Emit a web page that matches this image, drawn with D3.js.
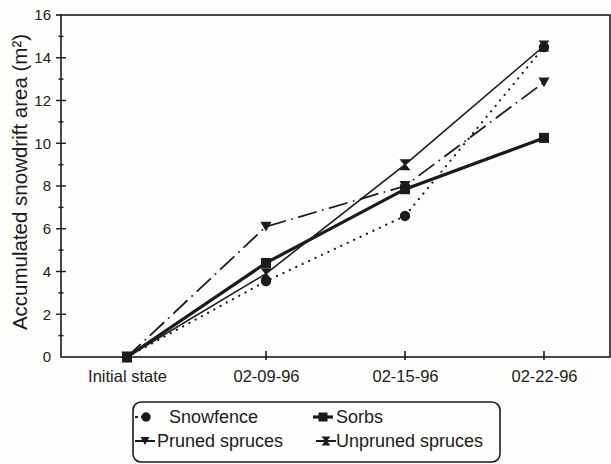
<!DOCTYPE html>
<html>
<head>
<meta charset="utf-8">
<script src="https://cdn.jsdelivr.net/npm/d3@7"></script>
<style>
  html, body { margin: 0; padding: 0; background: #fdfdfc; }
  svg { display: block; }
  text { font-family: "Liberation Sans", Arial, Helvetica, sans-serif; fill: #1b1b1b; }
</style>
</head>
<body>
<svg id="chart" width="611" height="464"></svg>
<script>
// ---- data ----
const categories = ["Initial state", "02-09-96", "02-15-96", "02-22-96"];
const snowfence = [0, 3.55, 6.6, 14.5];
const sorbs = [0, 4.4, 7.85, 10.25];
const prunedSpruces = [0, 6.1, 8.0, 12.85];
const unprunedSpruces = [0, 3.9, 9.0, 14.55];
const yTicks = [0, 2, 4, 6, 8, 10, 12, 14, 16];
const yMinorTicks = [1, 3, 5, 7, 9, 11, 13, 15];
const seriesNames = ["Snowfence", "Sorbs", "Pruned spruces", "Unpruned spruces"];

const ink = "#1b1b1b";
const svg = d3.select("#chart");
const plot = { left: 61, right: 610, top: 15, bottom: 357 };

const x = d3.scalePoint().domain(categories).range([plot.left, plot.right]).padding(0.475);
const y = d3.scaleLinear().domain([0, 16]).range([plot.bottom, plot.top]);

// ---- frame ----
const g = svg.append("g");
g.append("rect")
  .attr("x", plot.left).attr("y", plot.top)
  .attr("width", plot.right - plot.left).attr("height", plot.bottom - plot.top)
  .attr("fill", "none").attr("stroke", ink).attr("stroke-width", 1.6);

// ---- y axis ----
const yAxis = d3.axisLeft(y).tickValues(yTicks).tickSize(0).tickPadding(10).tickFormat(d3.format("d"));
const ya = g.append("g").attr("transform", `translate(${plot.left},0)`).call(yAxis);
ya.select(".domain").remove();
ya.selectAll("text").style("font-size", "15px").attr("fill", ink);
g.selectAll(".ymaj").data(yTicks.filter(d => d > 0 && d < 16)).enter().append("line")
  .attr("x1", plot.left - 5).attr("x2", plot.left + 5)
  .attr("y1", d => y(d)).attr("y2", d => y(d))
  .attr("stroke", ink).attr("stroke-width", 1.4);
g.selectAll(".ymin").data(yMinorTicks).enter().append("line")
  .attr("x1", plot.left - 2.5).attr("x2", plot.left + 2.5)
  .attr("y1", d => y(d)).attr("y2", d => y(d))
  .attr("stroke", ink).attr("stroke-width", 1.4);
g.append("line").attr("x1", plot.left - 5).attr("x2", plot.left)
  .attr("y1", y(16)).attr("y2", y(16)).attr("stroke", ink).attr("stroke-width", 1.6);

// ---- x axis ----
const xAxis = d3.axisBottom(x).tickSize(0).tickPadding(13);
const xa = g.append("g").attr("transform", `translate(0,${plot.bottom})`).call(xAxis);
xa.select(".domain").remove();
xa.selectAll("text").style("font-size", "16.5px").attr("fill", ink);
g.selectAll(".xt").data(categories.slice(1)).enter().append("line")
  .attr("x1", d => x(d)).attr("x2", d => x(d))
  .attr("y1", plot.bottom - 6).attr("y2", plot.bottom + 3)
  .attr("stroke", ink).attr("stroke-width", 1.6);

// ---- y title ----
g.append("text")
  .attr("transform", `translate(27,182) rotate(-90)`)
  .attr("text-anchor", "middle")
  .style("font-size", "20.5px")
  .text("Accumulated snowdrift area (m²)");

// ---- markers ----
function marker(sel, type, cx, cy, s) {
  if (type === "circle") {
    sel.append("circle").attr("cx", cx).attr("cy", cy).attr("r", s * 0.52).attr("fill", ink);
  } else if (type === "square") {
    sel.append("rect").attr("x", cx - s / 2).attr("y", cy - s / 2).attr("width", s).attr("height", s).attr("fill", ink);
  } else if (type === "triangle") {
    const h = s * 0.9;
    sel.append("path").attr("d", `M${cx - s / 2},${cy - h / 2}L${cx + s / 2},${cy - h / 2}L${cx},${cy + h / 2}Z`).attr("fill", ink);
  } else if (type === "hourglass") {
    const hw = s / 2;
    sel.append("path").attr("d",
      `M${cx - hw},${cy - hw}L${cx + hw},${cy - hw}L${cx + 1},${cy}L${cx + hw},${cy + hw}L${cx - hw},${cy + hw}L${cx - 1},${cy}Z`)
      .attr("fill", ink);
  }
}

const series = [
  { name: seriesNames[0], values: snowfence, marker: "circle", width: 2.2, dash: "0.1,7", cap: "round", size: 10 },
  { name: seriesNames[1], values: sorbs, marker: "square", width: 3.2, dash: null, cap: "butt", size: 10 },
  { name: seriesNames[2], values: prunedSpruces, marker: "triangle", width: 1.8, dash: "18,7,0.1,7", cap: "round", size: 11 },
  { name: seriesNames[3], values: unprunedSpruces, marker: "hourglass", width: 1.6, dash: null, cap: "butt", size: 11 }
];

const line = d3.line().x((d, i) => x(categories[i])).y(d => y(d));

series.forEach(s => {
  g.append("path").datum(s.values)
    .attr("d", line)
    .attr("fill", "none").attr("stroke", ink)
    .attr("stroke-width", s.width)
    .attr("stroke-linecap", s.cap)
    .attr("stroke-dasharray", s.dash);
});
series.forEach(s => {
  const mg = g.append("g");
  s.values.forEach((v, i) => marker(mg, s.marker, x(categories[i]), y(v), s.size));
});

// ---- legend ----
const lg = svg.append("g");
lg.append("rect").attr("x", 133).attr("y", 402).attr("width", 367).attr("height", 60)
  .attr("rx", 8).attr("ry", 8).attr("fill", "none").attr("stroke", ink).attr("stroke-width", 1.6);

const legendItems = [
  { s: series[0], lx: 135, ly: 417, tx: 169, ty: 423 },
  { s: series[1], lx: 313, ly: 417, tx: 336, ty: 423 },
  { s: series[2], lx: 135, ly: 441, tx: 157, ty: 447 },
  { s: series[3], lx: 316, ly: 441, tx: 336, ty: 447 }
];
legendItems.forEach(it => {
  const len = it.s.name === "Snowfence" ? 18 : 20;
  lg.append("line").attr("x1", it.lx).attr("x2", it.lx + len)
    .attr("y1", it.ly).attr("y2", it.ly)
    .attr("stroke", ink).attr("stroke-width", it.s.name === "Sorbs" ? 3.2 : 2)
    .attr("stroke-dasharray", it.s.name === "Snowfence" ? "3,3" : null);
  marker(lg, it.s.marker, it.lx + len / 2 + (it.s.name === "Snowfence" ? 2 : 0), it.ly, 9);
  lg.append("text").attr("x", it.tx).attr("y", it.ty).style("font-size", "18px").text(it.s.name);
});
</script>
</body>
</html>
